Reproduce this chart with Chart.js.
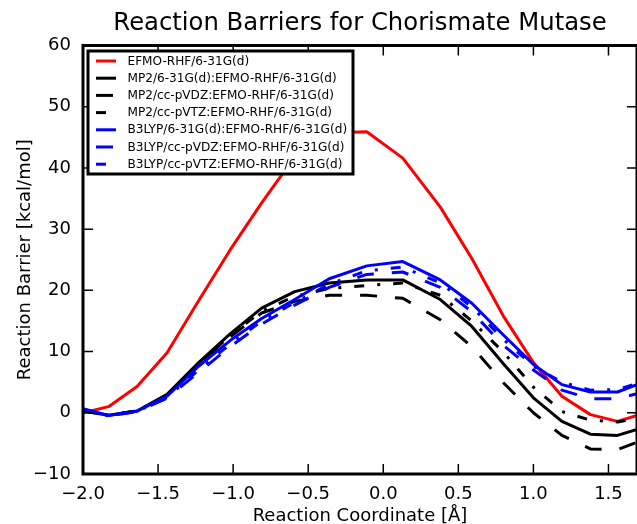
<!DOCTYPE html>
<html><head><meta charset="utf-8">
<script src="https://cdn.jsdelivr.net/npm/chart.js@4.4.1/dist/chart.umd.min.js"></script>
<style>html,body{margin:0;padding:0;background:#fff;overflow:hidden}canvas{display:block}</style>
</head><body>
<canvas id="c" width="637" height="524"></canvas>
<script>
// ---- data ----
const titleText = 'Reaction Barriers for Chorismate Mutase';
const xLabel = 'Reaction Coordinate [Å]';
const yLabel = 'Reaction Barrier [kcal/mol]';
const xTicks = [-2.0, -1.5, -1.0, -0.5, 0.0, 0.5, 1.0, 1.5];
const yTicks = [-10, 0, 10, 20, 30, 40, 50, 60];
const xMin = -2.0, xMax = 1.69, yMin = -10, yMax = 60;

const reactionCoord = [-2.0, -1.83, -1.64, -1.44, -1.23, -1.02, -0.81, -0.59, -0.36, -0.11, 0.13, 0.38, 0.59, 0.80, 1.00, 1.19, 1.38, 1.56, 1.69];
const efmoRHF      = [0.0, 1.0, 4.3, 9.8, 18.3, 26.6, 34.3, 41.8, 45.7, 45.9, 41.6, 33.6, 25.2, 15.8, 8.2, 2.7, -0.3, -1.4, -0.45];
const mp2_631gd    = [0.3, -0.4, 0.3, 3.0, 8.2, 12.9, 17.1, 19.8, 21.2, 21.7, 21.7, 18.5, 14.1, 8.0, 2.45, -1.4, -3.5, -3.7, -2.7];
const mp2_ccpvdz   = [0.3, -0.4, 0.3, 2.9, 7.9, 12.4, 16.3, 18.2, 19.2, 19.2, 18.7, 15.2, 10.8, 4.9, 0.0, -3.7, -5.9, -6.0, -4.8];
const mp2_ccpvtz   = [0.3, -0.4, 0.3, 2.9, 8.0, 12.6, 16.6, 19.0, 20.3, 20.8, 21.2, 19.2, 15.0, 9.9, 4.2, 0.2, -1.2, -1.5, -0.9];
const b3lyp_631gd  = [0.65, -0.45, 0.26, 2.7, 7.6, 11.8, 15.4, 18.5, 21.9, 24.0, 24.7, 21.7, 17.9, 12.7, 7.9, 4.6, 3.4, 3.4, 4.6];
const b3lyp_ccpvdz = [0.6, -0.5, 0.2, 2.4, 6.6, 10.8, 14.5, 17.6, 20.5, 22.6, 23.0, 20.5, 16.5, 11.0, 7.0, 3.7, 2.3, 2.3, 3.1];
const b3lyp_ccpvtz = [0.6, -0.5, 0.2, 2.5, 7.0, 11.2, 15.0, 18.0, 21.0, 23.2, 23.8, 21.2, 17.3, 12.0, 7.6, 5.0, 3.7, 3.8, 4.8];
const seriesNames = [
  'EFMO-RHF/6-31G(d)',
  'MP2/6-31G(d):EFMO-RHF/6-31G(d)',
  'MP2/cc-pVDZ:EFMO-RHF/6-31G(d)',
  'MP2/cc-pVTZ:EFMO-RHF/6-31G(d)',
  'B3LYP/6-31G(d):EFMO-RHF/6-31G(d)',
  'B3LYP/cc-pVDZ:EFMO-RHF/6-31G(d)',
  'B3LYP/cc-pVTZ:EFMO-RHF/6-31G(d)'
];
const seriesValues = [efmoRHF, mp2_631gd, mp2_ccpvdz, mp2_ccpvtz, b3lyp_631gd, b3lyp_ccpvdz, b3lyp_ccpvtz];

// ---- styles ----
const FONT = "'DejaVu Sans', 'Liberation Sans', sans-serif";
const colors = ['#ff0000', '#000000', '#000000', '#000000', '#0000ff', '#0000ff', '#0000ff'];
const DASHED = [17, 18];
const DASHDOT = [10, 13, 3, 13];
const dashes = [[], [], DASHED, DASHDOT, [], DASHED, DASHDOT];

const datasets = seriesValues.map((vals, i) => ({
  label: seriesNames[i],
  data: reactionCoord.map((x, j) => ({x: x, y: vals[j]})),
  borderColor: colors[i],
  backgroundColor: colors[i],
  borderWidth: 3,
  borderDash: dashes[i],
  borderCapStyle: 'butt',
  borderJoinStyle: 'round',
  pointRadius: 0,
  tension: 0,
  fill: false,
  order: seriesValues.length - i
}));

const fmtX = v => (v < 0 ? '\u2212' : '') + Math.abs(v).toFixed(1);
const fmtY = v => (v < 0 ? '\u2212' : '') + Math.abs(v);

const framePlugin = {
  id: 'frame',
  afterDatasetsDraw(chart) {
    const {ctx, chartArea: a, scales} = chart;
    ctx.save();
    ctx.strokeStyle = '#000';
    ctx.lineWidth = 1.5;
    const TL = 10;
    ctx.beginPath();
    xTicks.forEach(v => {
      const px = scales.x.getPixelForValue(v);
      ctx.moveTo(px, a.bottom); ctx.lineTo(px, a.bottom - TL);
      ctx.moveTo(px, a.top); ctx.lineTo(px, a.top + TL);
    });
    yTicks.forEach(v => {
      const py = scales.y.getPixelForValue(v);
      ctx.moveTo(a.left, py); ctx.lineTo(a.left + TL, py);
      ctx.moveTo(a.right, py); ctx.lineTo(a.right - TL, py);
    });
    ctx.stroke();
    ctx.lineWidth = 3;
    ctx.strokeRect(a.left, a.top, a.right - a.left, a.bottom - a.top);
    ctx.restore();
  },
  afterDraw(chart) {
    const {ctx, chartArea: a} = chart;
    ctx.save();
    ctx.fillStyle = '#000';
    ctx.font = '24.3px ' + FONT;
    ctx.textAlign = 'center';
    ctx.textBaseline = 'alphabetic';
    ctx.fillText(titleText, (a.left + a.right) / 2, 30);
    const L = {x: 88, y: 51, w: 265, h: 123};
    ctx.fillStyle = '#fff';
    ctx.fillRect(L.x, L.y, L.w, L.h);
    ctx.strokeStyle = '#000';
    ctx.lineWidth = 3;
    ctx.strokeRect(L.x, L.y, L.w, L.h);
    ctx.font = '12.1px ' + FONT;
    ctx.textAlign = 'left';
    ctx.textBaseline = 'middle';
    chart.data.datasets.forEach((ds, i) => {
      const cy = 61 + i * 17.2;
      ctx.beginPath();
      ctx.setLineDash(ds.borderDash || []);
      ctx.lineCap = 'butt';
      ctx.strokeStyle = ds.borderColor;
      ctx.lineWidth = 3;
      ctx.moveTo(96, cy); ctx.lineTo(116, cy);
      ctx.stroke();
      ctx.setLineDash([]);
      ctx.fillStyle = '#000';
      ctx.fillText(ds.label, 127.5, cy + 0.5);
    });
    ctx.restore();
  }
};

new Chart(document.getElementById('c'), {
  type: 'line',
  data: {datasets: datasets},
  plugins: [framePlugin],
  options: {
    responsive: false,
    animation: false,
    devicePixelRatio: 1,
    layout: {padding: {left: 0, right: 0, top: 45.5, bottom: 0}},
    plugins: {legend: {display: false}, tooltip: {enabled: false}, title: {display: false}},
    elements: {line: {borderWidth: 3}},
    scales: {
      x: {
        type: 'linear', min: xMin, max: xMax,
        afterBuildTicks: s => { s.ticks = xTicks.map(v => ({value: v})); },
        afterFit: s => { s.height = 50; },
        grid: {display: false, drawTicks: false},
        border: {display: false},
        ticks: {callback: fmtX, color: '#000', font: {family: FONT, size: 18}, padding: 10, maxRotation: 0, autoSkip: false},
        title: {display: true, text: xLabel, color: '#000', font: {family: FONT, size: 18, lineHeight: 0.8}, padding: {top: 0, bottom: 0}}
      },
      y: {
        type: 'linear', min: yMin, max: yMax,
        afterBuildTicks: s => { s.ticks = yTicks.map(v => ({value: v})); },
        afterFit: s => { s.width = 83; },
        grid: {display: false, drawTicks: false},
        border: {display: false},
        ticks: {callback: fmtY, color: '#000', font: {family: FONT, size: 18}, padding: 12, autoSkip: false},
        title: {display: true, text: yLabel, color: '#000', font: {family: FONT, size: 18, lineHeight: 1.2}, padding: {top: 15, bottom: 0}}
      }
    }
  }
});
</script>
</body></html>
